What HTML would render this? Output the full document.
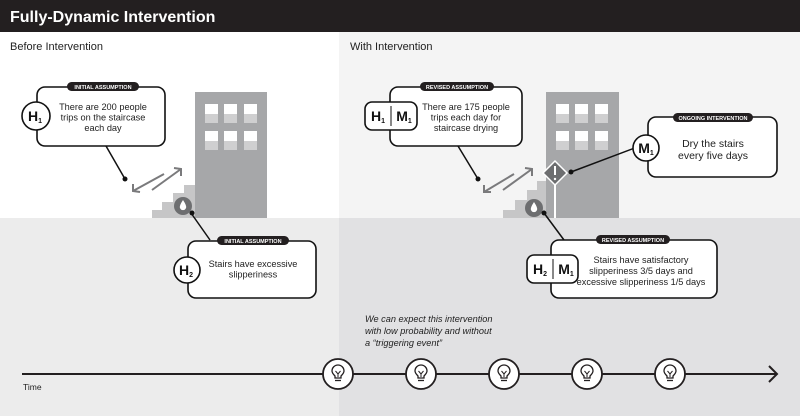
<!DOCTYPE html>
<html><head><meta charset="utf-8"><style>
html,body{margin:0;padding:0;width:800px;height:416px;overflow:hidden;background:#fff}
svg{display:block;font-family:"Liberation Sans",sans-serif}
</style></head><body>
<svg width="800" height="416" viewBox="0 0 800 416" xmlns="http://www.w3.org/2000/svg">
<defs>
<g id="b">
<circle cx="0" cy="0" r="15" fill="#fff" stroke="#231f20" stroke-width="1.8"/>
<path d="M-3 4 V2 Q-6 -1 -6 -3 A6 6 0 1 1 6 -3 Q6 -1 3 2 V4Z" fill="none" stroke="#231f20" stroke-width="1.3"/>
<path d="M-2.5 -3 L0 0 L2.5 -3 M0 0 V3" fill="none" stroke="#231f20" stroke-width="1"/>
<line x1="-3" y1="6.5" x2="3" y2="6.5" stroke="#231f20" stroke-width="1.3"/>
</g>
</defs>
<rect x="0" y="0" width="800" height="416" fill="#fff"/>
<rect x="0" y="32" width="339" height="186" fill="#ffffff"/>
<rect x="0" y="218" width="339" height="198" fill="#ececec"/>
<rect x="339" y="32" width="461" height="186" fill="#f4f4f4"/>
<rect x="339" y="218" width="461" height="198" fill="#e1e1e3"/>
<rect x="0" y="0" width="800" height="32" fill="#231f20"/>
<text x="10" y="22" fill="#fff" font-size="16" font-weight="bold">Fully-Dynamic Intervention</text>
<text x="10" y="50" fill="#222" font-size="11">Before Intervention</text>
<text x="350" y="50" fill="#222" font-size="11">With Intervention</text>

<path d="M152 218V210H162V202H173V193H184V185H195V218Z" fill="#c6c6c7"/>
<rect x="195" y="92" width="72" height="126" fill="#a6a7a9"/>
<g fill="#fff"><rect x="205" y="104" width="13" height="10"/><rect x="224" y="104" width="13" height="10"/><rect x="244" y="104" width="13" height="10"/><rect x="205" y="131" width="13" height="10"/><rect x="224" y="131" width="13" height="10"/><rect x="244" y="131" width="13" height="10"/></g>
<g fill="#cfcfd0"><rect x="205" y="114" width="13" height="9"/><rect x="224" y="114" width="13" height="9"/><rect x="244" y="114" width="13" height="9"/><rect x="205" y="141" width="13" height="9"/><rect x="224" y="141" width="13" height="9"/><rect x="244" y="141" width="13" height="9"/></g>
<circle cx="183" cy="206" r="9" fill="#6d6e70"/>
<path d="M183 200 Q179 206 180 208 A3.2 3.2 0 0 0 186 208 Q187 206 183 200Z" fill="#fff"/>
<g stroke="#7a7a7c" stroke-width="2" fill="none"><line x1="164" y1="174" x2="133" y2="191"/><polyline points="133,184 133,191 140,192"/><line x1="152" y1="190" x2="181" y2="169"/><polyline points="174,168 181,169 181,176"/></g>
<line x1="106" y1="146" x2="125" y2="179" stroke="#111" stroke-width="1.5"/><circle cx="125" cy="179" r="2.5" fill="#111"/>
<rect x="37" y="87" width="128" height="59" rx="8" fill="#fff" stroke="#111" stroke-width="1.6"/>
<rect x="67" y="82" width="72" height="9" rx="4.5" fill="#231f20"/>
<text x="103" y="89" fill="#fff" font-size="5.5" font-weight="bold" text-anchor="middle">INITIAL ASSUMPTION</text>
<circle cx="36" cy="116" r="14" fill="#fff" stroke="#111" stroke-width="1.6"/>
<text x="35" y="121" font-size="14" font-weight="bold" text-anchor="middle" fill="#111">H<tspan font-size="7" dy="2">1</tspan></text>
<g font-size="9.2" fill="#222" text-anchor="middle"><text x="103" y="110">There are 200 people</text><text x="103" y="120.5">trips on the staircase</text><text x="103" y="131">each day</text></g>
<line x1="191" y1="213" x2="210" y2="240" stroke="#111" stroke-width="1.5"/><circle cx="192" cy="213" r="2.5" fill="#111"/>
<rect x="188" y="241" width="128" height="57" rx="8" fill="#fff" stroke="#111" stroke-width="1.6"/>
<rect x="217" y="236" width="72" height="9" rx="4.5" fill="#231f20"/>
<text x="253" y="243" fill="#fff" font-size="5.5" font-weight="bold" text-anchor="middle">INITIAL ASSUMPTION</text>
<circle cx="187" cy="270" r="13" fill="#fff" stroke="#111" stroke-width="1.6"/>
<text x="186" y="275" font-size="14" font-weight="bold" text-anchor="middle" fill="#111">H<tspan font-size="7" dy="2">2</tspan></text>
<g font-size="9.2" fill="#222" text-anchor="middle"><text x="253" y="267">Stairs have excessive</text><text x="253" y="277.5">slipperiness</text></g>

<path d="M503 218V210H515V200H527V190H537V181H546V218Z" fill="#c6c6c7"/>
<rect x="546" y="92" width="73" height="126" fill="#a6a7a9"/>
<g fill="#fff"><rect x="556" y="104" width="13" height="10"/><rect x="575" y="104" width="13" height="10"/><rect x="595" y="104" width="13" height="10"/><rect x="556" y="131" width="13" height="10"/><rect x="575" y="131" width="13" height="10"/><rect x="595" y="131" width="13" height="10"/></g>
<g fill="#cfcfd0"><rect x="556" y="114" width="13" height="9"/><rect x="575" y="114" width="13" height="9"/><rect x="595" y="114" width="13" height="9"/><rect x="556" y="141" width="13" height="9"/><rect x="575" y="141" width="13" height="9"/><rect x="595" y="141" width="13" height="9"/></g>
<rect x="554" y="180" width="2" height="38" fill="#fff"/>
<path d="M555 161 L567 173 L555 185 L543 173Z" fill="#6d6e70" stroke="#fff" stroke-width="1.5"/>
<rect x="554" y="166" width="2" height="9" fill="#fff"/><circle cx="555" cy="179" r="1.2" fill="#fff"/>
<circle cx="534" cy="208" r="9" fill="#6d6e70"/>
<path d="M534 202 Q530 208 531 210 A3.2 3.2 0 0 0 537 210 Q538 208 534 202Z" fill="#fff"/>
<g stroke="#7a7a7c" stroke-width="2" fill="none"><line x1="514" y1="174" x2="484" y2="192"/><polyline points="484,185 484,192 491,192"/><line x1="503" y1="190" x2="532" y2="169"/><polyline points="525,168 532,169 532,176"/></g>
<line x1="458" y1="146" x2="478" y2="179" stroke="#111" stroke-width="1.5"/><circle cx="478" cy="179" r="2.5" fill="#111"/>
<rect x="390" y="87" width="132" height="59" rx="8" fill="#fff" stroke="#111" stroke-width="1.6"/>
<rect x="420" y="82" width="74" height="9" rx="4.5" fill="#231f20"/>
<text x="457" y="89" fill="#fff" font-size="5.5" font-weight="bold" text-anchor="middle">REVISED ASSUMPTION</text>
<rect x="365" y="102" width="52" height="28" rx="7" fill="#fff" stroke="#111" stroke-width="1.6"/>
<line x1="391" y1="106" x2="391" y2="126" stroke="#111" stroke-width="1"/>
<text x="378" y="121" font-size="14" font-weight="bold" text-anchor="middle" fill="#111">H<tspan font-size="7" dy="2">1</tspan></text>
<text x="404" y="121" font-size="14" font-weight="bold" text-anchor="middle" fill="#111">M<tspan font-size="7" dy="2">1</tspan></text>
<g font-size="9.2" fill="#222" text-anchor="middle"><text x="466" y="110">There are 175 people</text><text x="466" y="120.5">trips each day for</text><text x="466" y="131">staircase drying</text></g>
<line x1="571" y1="172" x2="640" y2="146" stroke="#111" stroke-width="1.5"/><circle cx="571" cy="172" r="2.5" fill="#111"/>
<rect x="648" y="117" width="129" height="60" rx="8" fill="#fff" stroke="#111" stroke-width="1.6"/>
<rect x="673" y="113" width="80" height="9" rx="4.5" fill="#231f20"/>
<text x="713" y="120" fill="#fff" font-size="5.5" font-weight="bold" text-anchor="middle">ONGOING INTERVENTION</text>
<circle cx="646" cy="148" r="13" fill="#fff" stroke="#111" stroke-width="1.6"/>
<text x="646" y="153" font-size="14" font-weight="bold" text-anchor="middle" fill="#111">M<tspan font-size="7" dy="2">1</tspan></text>
<g font-size="10.5" fill="#222" text-anchor="middle"><text x="713" y="147">Dry the stairs</text><text x="713" y="159">every five days</text></g>
<line x1="544" y1="213" x2="564" y2="240" stroke="#111" stroke-width="1.5"/><circle cx="544" cy="213" r="2.5" fill="#111"/>
<rect x="551" y="240" width="166" height="58" rx="8" fill="#fff" stroke="#111" stroke-width="1.6"/>
<rect x="596" y="235" width="74" height="9" rx="4.5" fill="#231f20"/>
<text x="633" y="242" fill="#fff" font-size="5.5" font-weight="bold" text-anchor="middle">REVISED ASSUMPTION</text>
<rect x="527" y="255" width="51" height="28" rx="7" fill="#fff" stroke="#111" stroke-width="1.6"/>
<line x1="553" y1="259" x2="553" y2="279" stroke="#111" stroke-width="1"/>
<text x="540" y="274" font-size="14" font-weight="bold" text-anchor="middle" fill="#111">H<tspan font-size="7" dy="2">2</tspan></text>
<text x="566" y="274" font-size="14" font-weight="bold" text-anchor="middle" fill="#111">M<tspan font-size="7" dy="2">1</tspan></text>
<g font-size="9.2" fill="#222" text-anchor="middle"><text x="641" y="263">Stairs have satisfactory</text><text x="641" y="274">slipperiness 3/5 days and</text><text x="641" y="285">excessive slipperiness 1/5 days</text></g>

<g font-size="9.2" font-style="italic" fill="#222"><text x="365" y="322">We can expect this intervention</text><text x="365" y="334">with low probability and without</text><text x="365" y="346">a “triggering event”</text></g>

<line x1="22" y1="374" x2="777" y2="374" stroke="#231f20" stroke-width="2"/>
<polyline points="769,366 777,374 769,382" fill="none" stroke="#231f20" stroke-width="2"/>
<text x="23" y="390" font-size="8.5" fill="#222">Time</text>
<use href="#b" x="338" y="374"/>
<use href="#b" x="421" y="374"/>
<use href="#b" x="504" y="374"/>
<use href="#b" x="587" y="374"/>
<use href="#b" x="670" y="374"/>
</svg>
</body></html>
